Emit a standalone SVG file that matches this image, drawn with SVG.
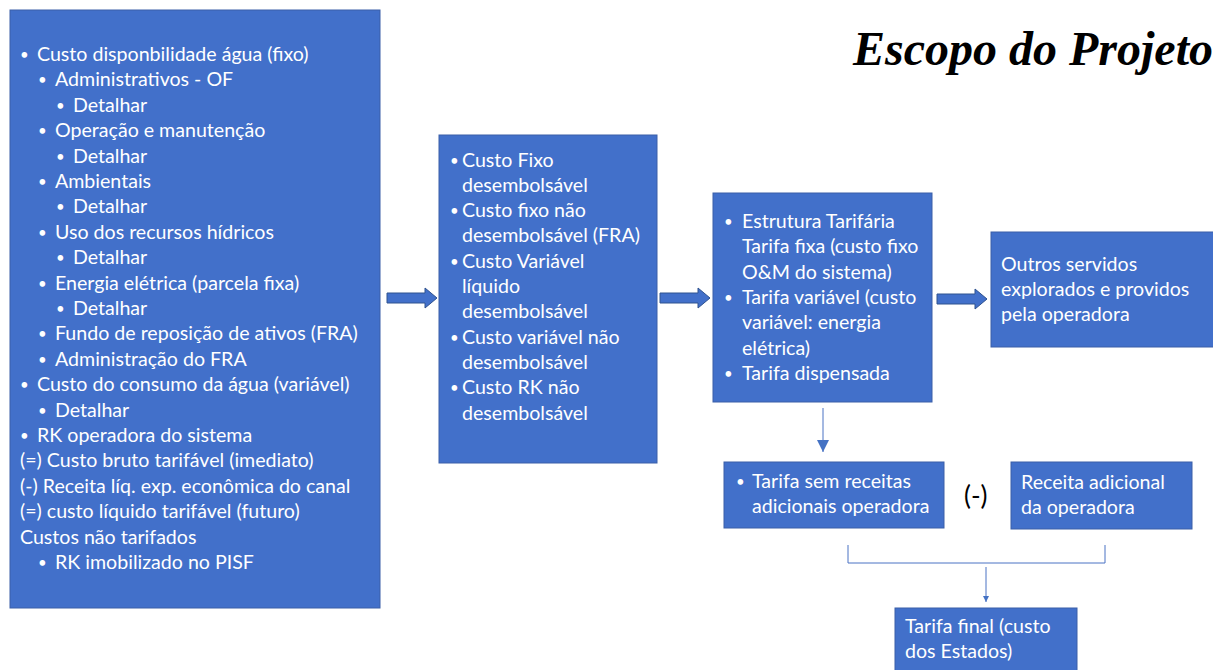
<svg xmlns="http://www.w3.org/2000/svg" width="1213" height="670" viewBox="0 0 1213 670">
<style>
.box{fill:#4270CA;stroke:#3A5FA8;stroke-width:1}
.t{font-family:Lato,"Liberation Sans",sans-serif;font-size:19.6px;fill:#FFFFFF}
.b{font-size:15px}
.blk{fill:#4270CA;stroke:#2F528F;stroke-width:1}
.thin{stroke:#4A72C4;stroke-width:1;fill:none}
</style>
<defs>
<marker id="ah" viewBox="0 0 10 10" refX="10" refY="5" markerWidth="12" markerHeight="13" markerUnits="userSpaceOnUse" orient="auto"><path d="M0,0 L10,5 L0,10 z" fill="#4472C4"/></marker>
<marker id="ah2" viewBox="0 0 10 10" refX="10" refY="5" markerWidth="6" markerHeight="7" markerUnits="userSpaceOnUse" orient="auto"><path d="M0,0 L10,5 L0,10 z" fill="#4472C4"/></marker>
</defs>
<rect width="1213" height="670" fill="#FFFFFF"/>
<text x="853" y="65" font-family="'Liberation Serif',serif" font-size="48" font-weight="bold" font-style="italic" fill="#000">Escopo do Projeto</text>

<g id="custos">
<rect class="box" x="10" y="10" width="370" height="598"/>
<g class="t">
<text class="b" x="20" y="60">•</text><text x="37" y="61">Custo disponbilidade água (fixo)</text>
<text class="b" x="38" y="85.4">•</text><text x="55" y="86.4">Administrativos - OF</text>
<text class="b" x="56" y="110.8">•</text><text x="73" y="111.8">Detalhar</text>
<text class="b" x="38" y="136.2">•</text><text x="55" y="137.2">Operação e manutenção</text>
<text class="b" x="56" y="161.6">•</text><text x="73" y="162.6">Detalhar</text>
<text class="b" x="38" y="187">•</text><text x="55" y="188">Ambientais</text>
<text class="b" x="56" y="212.4">•</text><text x="73" y="213.4">Detalhar</text>
<text class="b" x="38" y="237.8">•</text><text x="55" y="238.8">Uso dos recursos hídricos</text>
<text class="b" x="56" y="263.2">•</text><text x="73" y="264.2">Detalhar</text>
<text class="b" x="38" y="288.6">•</text><text x="55" y="289.6">Energia elétrica (parcela fixa)</text>
<text class="b" x="56" y="314">•</text><text x="73" y="315">Detalhar</text>
<text class="b" x="38" y="339.4">•</text><text x="55" y="340.4">Fundo de reposição de ativos (FRA)</text>
<text class="b" x="38" y="364.8">•</text><text x="55" y="365.8">Administração do FRA</text>
<text class="b" x="20" y="390.2">•</text><text x="37" y="391.2">Custo do consumo da água (variável)</text>
<text class="b" x="38" y="415.6">•</text><text x="55" y="416.6">Detalhar</text>
<text class="b" x="20" y="441">•</text><text x="37" y="442">RK operadora do sistema</text>
<text x="20" y="467.4">(=) Custo bruto tarifável (imediato)</text>
<text x="20" y="492.8">(-) Receita líq. exp. econômica do canal</text>
<text x="20" y="518.2">(=) custo líquido tarifável (futuro)</text>
<text x="20" y="543.6">Custos não tarifados</text>
<text class="b" x="38" y="568">•</text><text x="55" y="569">RK imobilizado no PISF</text>
</g>
</g>

<g id="classificacao">
<rect class="box" x="439" y="135" width="218" height="328"/>
<g class="t">
<text class="b" x="450" y="165.5">•</text><text x="462" y="166.5">Custo Fixo</text>
<text x="462" y="191.8">desembolsável</text>
<text class="b" x="450" y="216.1">•</text><text x="462" y="217.1">Custo fixo não</text>
<text x="462" y="242.4">desembolsável (FRA)</text>
<text class="b" x="450" y="266.7">•</text><text x="462" y="267.7">Custo Variável</text>
<text x="462" y="293">líquido</text>
<text x="462" y="318.3">desembolsável</text>
<text class="b" x="450" y="342.6">•</text><text x="462" y="343.6">Custo variável não</text>
<text x="462" y="368.9">desembolsável</text>
<text class="b" x="450" y="393.2">•</text><text x="462" y="394.2">Custo RK não</text>
<text x="462" y="419.5">desembolsável</text>
</g>
</g>

<g id="estrutura">
<rect class="box" x="713" y="193" width="219" height="209"/>
<g class="t">
<text class="b" x="724" y="227">•</text><text x="742" y="228">Estrutura Tarifária</text>
<text x="742" y="253.3">Tarifa fixa (custo fixo</text>
<text x="742" y="278.6">O&amp;M do sistema)</text>
<text class="b" x="724" y="302.9">•</text><text x="742" y="303.9">Tarifa variável (custo</text>
<text x="742" y="329.2">variável: energia</text>
<text x="742" y="354.5">elétrica)</text>
<text class="b" x="724" y="378.8">•</text><text x="742" y="379.8">Tarifa dispensada</text>
</g>
</g>

<g id="outros">
<rect class="box" x="991" y="232" width="230" height="115"/>
<g class="t">
<text x="1001" y="271">Outros servidos</text>
<text x="1001" y="296">explorados e providos</text>
<text x="1001" y="321">pela operadora</text>
</g>
</g>

<g id="tarifa-sem">
<rect class="box" x="724" y="462" width="220" height="66"/>
<g class="t">
<text class="b" x="736" y="487">•</text><text x="752" y="488">Tarifa sem receitas</text>
<text x="752" y="513">adicionais operadora</text>
</g>
</g>

<g id="menos">
<text x="964" y="505" font-family="Lato,'Liberation Sans',sans-serif" font-size="26" fill="#000">(-)</text>
</g>

<g id="receita">
<rect class="box" x="1011" y="462" width="181" height="67"/>
<g class="t">
<text x="1021" y="489">Receita adicional</text>
<text x="1021" y="514">da operadora</text>
</g>
</g>

<g id="final">
<rect class="box" x="895" y="608" width="182" height="70"/>
<g class="t">
<text x="905" y="633">Tarifa final (custo</text>
<text x="905" y="658">dos Estados)</text>
</g>
</g>

<g id="connectors">
<path class="blk" d="M387,293 L425,293 L425,288 L437,298 L425,308 L425,303 L387,303 Z"/>
<path class="blk" d="M660,293 L698,293 L698,288 L710,298 L698,308 L698,303 L660,303 Z"/>
<path class="blk" d="M937,294 L975,294 L975,289 L987,299 L975,309 L975,304 L937,304 Z"/>
<line class="thin" x1="823" y1="408" x2="823" y2="452" marker-end="url(#ah)"/>
<path class="thin" d="M848,545 L848,563 L1105,563 L1105,545"/>
<line class="thin" x1="986" y1="567" x2="986" y2="602" marker-end="url(#ah2)"/>
</g>
</svg>
